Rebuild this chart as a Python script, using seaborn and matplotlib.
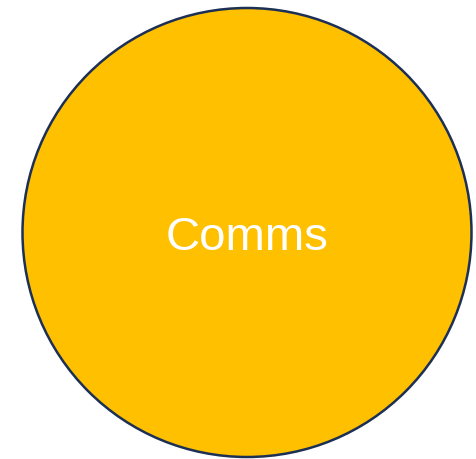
import matplotlib
matplotlib.use("Agg")
import matplotlib.pyplot as plt
import seaborn as sns
from matplotlib.patches import Circle

# Dados: um único conjunto
conjuntos = ["Comms"]
tamanhos = [1.0]
cores = ["#FFC000"]

sns.set_theme(style="white")
plt.rcParams['font.family'] = ['Liberation Sans', 'DejaVu Sans']

fig = plt.figure(figsize=(4.77, 4.60), dpi=100)
ax = fig.add_axes([0, 0, 1, 1])
ax.set_xlim(0, 477)
ax.set_ylim(460, 0)
ax.set_aspect("equal")
ax.axis("off")

raio_base = 224.5
for nome, tam, cor in zip(conjuntos, tamanhos, cores):
    r = raio_base * tam ** 0.5
    circ = Circle((247, 233.5), r, facecolor=cor, edgecolor="#1C2F55", linewidth=1.8)
    ax.add_patch(circ)
    ax.text(247, 238, nome, color="white", fontsize=34, ha="center", va="center")

fig.savefig("out.png", dpi=100)
